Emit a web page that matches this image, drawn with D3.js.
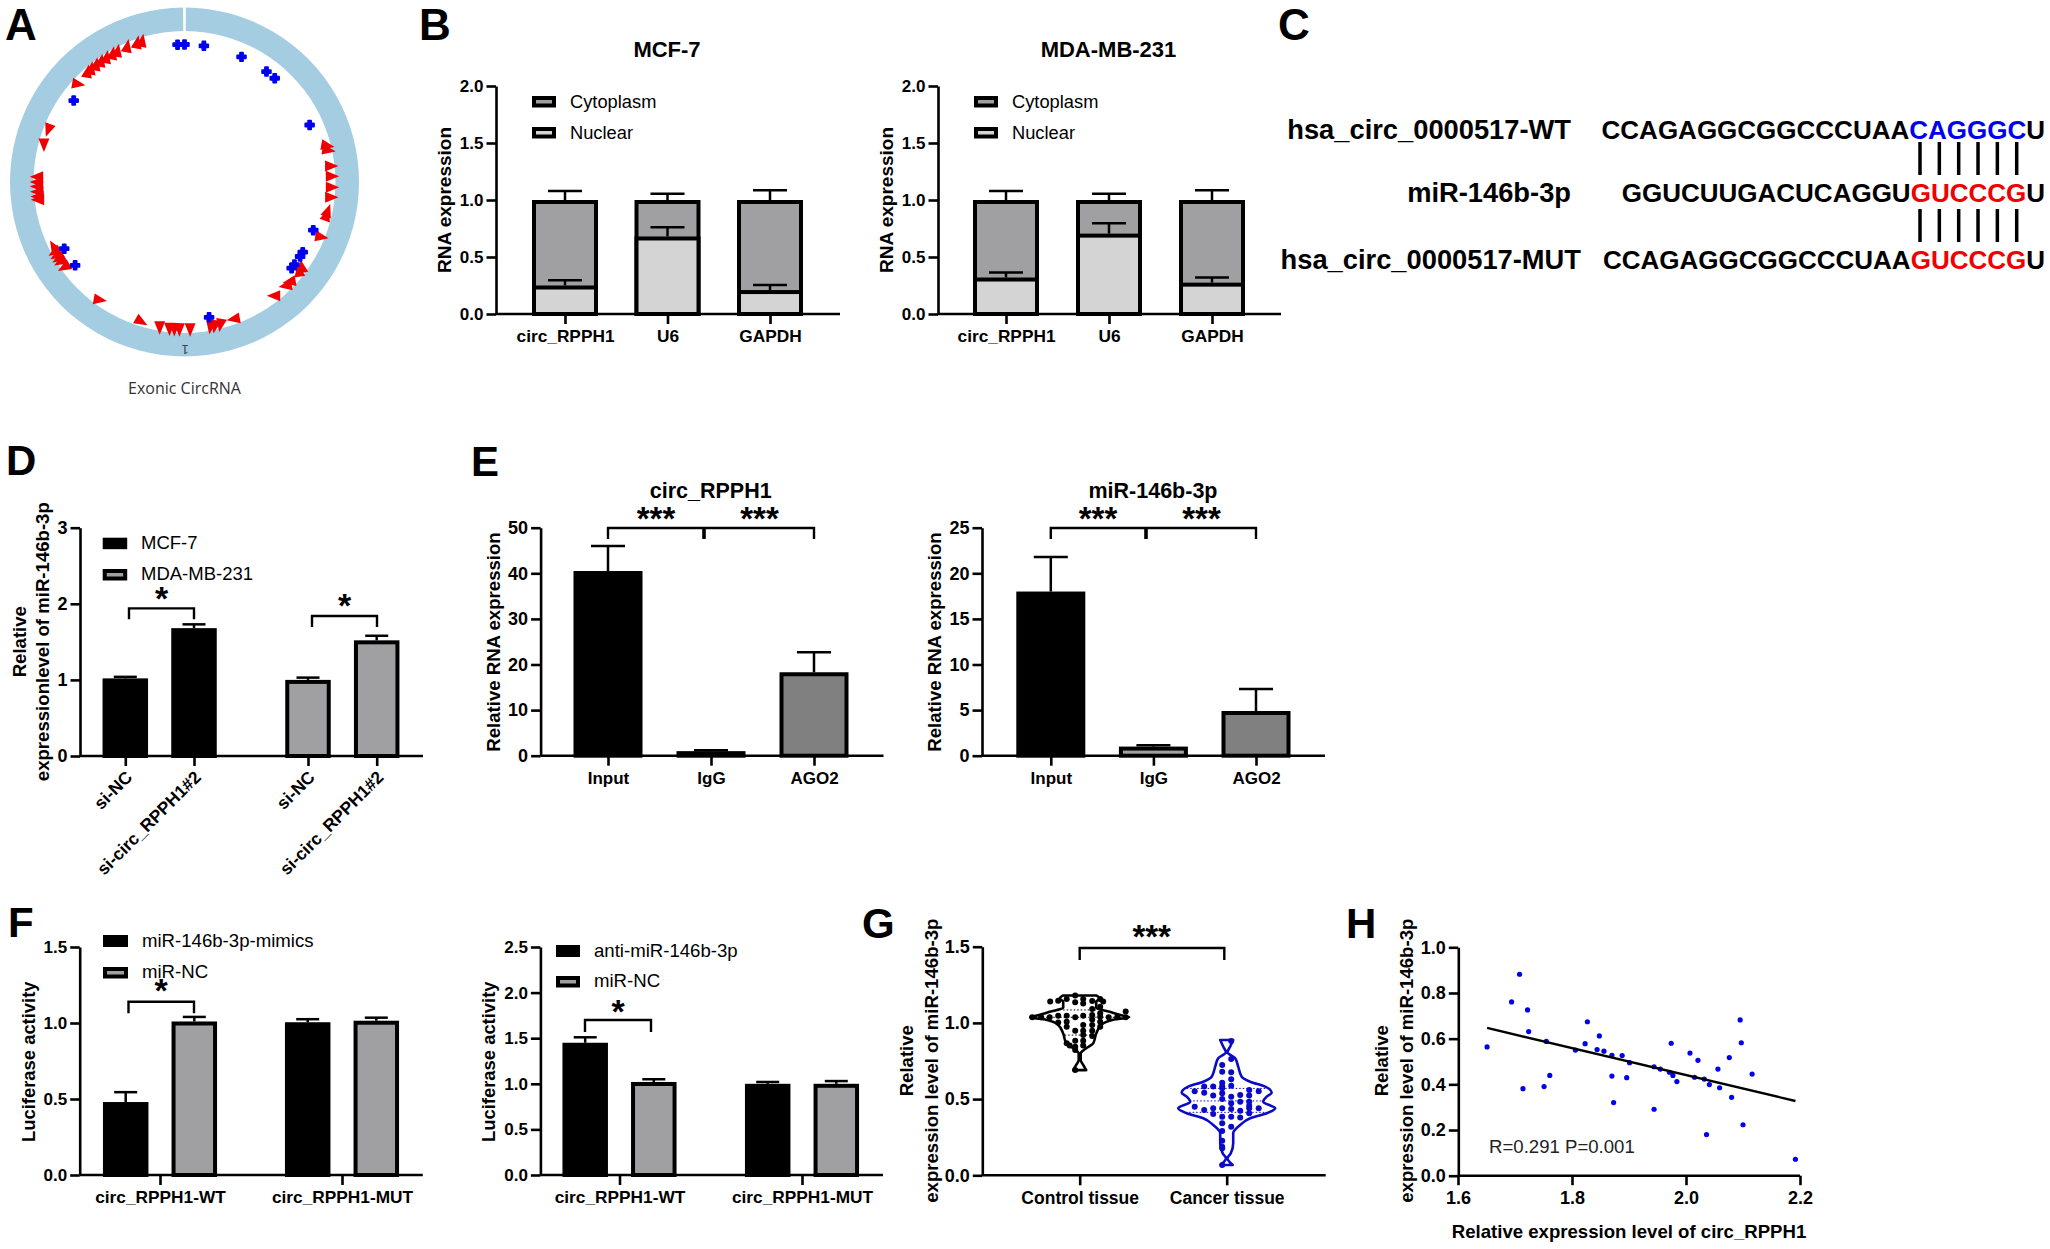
<!DOCTYPE html>
<html>
<head>
<meta charset="utf-8">
<style>
body { margin: 0; background: #fff; }
svg { display: block; }
text { font-family: "Liberation Sans", Arial, sans-serif; fill: #000; }
</style>
<script src="https://d3js.org/d3.v7.min.js"></script>
</head>
<body>
<svg width="2050" height="1249"></svg>
<script>
// panel A, sites as degrees clockwise from the top of the ring
var blueSites = [357.1, 0, 8.1, 24.5, 36.6, 41, 65.5, 110.5, 120.7, 122.8, 126.9, 128.8, 169.7, 306.3, 241, 232.7];
var redSites = [343, 341, 336.8, 332.6, 330.4, 327.6, 325, 322.6, 320.1, 318.2, 312.3, 291.6, 285.5,
    272.1, 270, 268.2, 266.2, 264.3, 263,
    243, 241.6, 240.1, 238.6, 237.2, 234.6, 216.3, 197.9, 189.8, 185.9, 184, 182, 177.8,
    169.6, 167.9, 165.6, 159.6, 141.3, 135.2, 133, 128.2, 126.3, 112, 103.7, 102, 96, 92.1, 87.7, 83.7, 77.3, 75.5];
var redHeadings = [10, 10, 10, 10, 10, 10, 10, 10, 10, 10, 100, 200, 180,
    270, 270, 270, 270, 270, 270,
    330, 240, 240, 240, 240, 240, 100, 120, 180, 180, 180, 180, 180,
    190, 190, 190, 260, 270, 260, 260, 350, 350, 100, 20, 20, 90, 90, 90, 90, 100, 100];

// panel B
var fractions = ["circ_RPPH1", "U6", "GAPDH"];
var mcfNuclear = [0.25, 0.68, 0.21];
var mcfNuclearErr = [0.295, 0.76, 0.255];
var mcfTotalErr = [1.08, 1.055, 1.085];
var mdaNuclear = [0.32, 0.705, 0.275];
var mdaNuclearErr = [0.365, 0.795, 0.32];
var mdaTotalErr = [1.08, 1.055, 1.085];

// panel C
var wtSeq = ["CCAGAGGCGGCCCUAA", "CAGGGC", "U"];
var mirSeq = ["GGUCUUGACUCAGGU", "GUCCCG", "U"];
var mutSeq = ["CCAGAGGCGGCCCUAA", "GUCCCG", "U"];
var pairs = [0, 1, 2, 3, 4, 5];

// panel D
var dGroups = ["MCF-7", "MDA-MB-231"];
var dMembers = ["si-NC", "si-circ_RPPH1#2"];
var dValues = [[1.02, 1.68], [1.0, 1.52]];
var dErr = [[1.04, 1.73], [1.03, 1.58]];

// panel E
var ripCats = ["Input", "IgG", "AGO2"];
var ripCirc = [40.5, 1, 18.3];
var ripCircErr = [46, 1.2, 22.7];
var ripMir = [18, 1, 4.9];
var ripMirErr = [21.8, 1.15, 7.3];

// panel F
var lucGroups = ["circ_RPPH1-WT", "circ_RPPH1-MUT"];
var lucMembers = ["a", "b"];
var lucMimics = [[0.48, 1.01], [1.005, 1.015]];
var lucMimicsErr = [[0.545, 1.04], [1.025, 1.035]];
var lucAnti = [[1.45, 1.02], [1.0, 1.0]];
var lucAntiErr = [[1.51, 1.05], [1.02, 1.03]];

// panel G, outlines as [level, half width], dots as [level, offset]
var tissues = ["Control tissue", "Cancer tissue"];
var controlOutline = [[1.18, 0.33], [1.16, 0.4], [1.14, 0.33], [1.10, 0.33], [1.073, 0.6], [1.05, 0.83], [1.037, 0.99],
    [1.02, 0.67], [0.986, 0.43], [0.93, 0.33], [0.866, 0.27], [0.833, 0.13], [0.80, 0.02], [0.757, 0.02], [0.724, 0.07], [0.69, 0.13]];
var cancerOutline = [[0.888, 0.13], [0.845, 0.07], [0.807, 0.015], [0.768, 0.17], [0.713, 0.23], [0.647, 0.3], [0.614, 0.47],
    [0.582, 0.77], [0.542, 0.9], [0.516, 0.8], [0.483, 0.73], [0.44, 0.97], [0.407, 0.8], [0.374, 0.47], [0.33, 0.27],
    [0.276, 0.13], [0.21, 0.13], [0.144, 0.08], [0.112, 0.015], [0.068, 0.12]];
var controlDots = [[1.141, -0.59], [1.146, -0.43], [1.157, -0.26], [1.179, -0.09], [1.157, 0.07], [1.144, 0.25], [1.157, 0.41], [1.141, 0.47],
    [1.135, -0.09], [1.128, 0.07], [1.074, 0.92], [1.106, 0.41], [1.091, 0.25], [1.063, 0.41], [1.052, 0.25], [1.041, 0.41],
    [1.037, 0.58], [1.037, 0.75], [1.037, 0.92], [1.037, -0.95], [1.037, -0.77], [1.037, -0.6], [1.047, -0.43], [1.047, -0.26],
    [1.037, -0.09], [1.047, 0.07], [1.023, 0.25], [1.008, 0.41], [1.002, -0.43], [1.008, -0.26], [0.975, -0.26], [0.986, 0.07],
    [0.986, 0.25], [0.975, 0.41], [0.949, -0.09], [0.949, 0.07], [0.949, 0.25], [0.921, 0.07], [0.914, 0.25], [0.883, -0.09],
    [0.883, 0.07], [0.866, -0.26], [0.851, 0.07], [0.844, -0.09], [0.851, -0.2], [0.822, -0.09], [0.691, -0.09]];
var cancerDots = [[0.551, -0.64], [0.582, -0.45], [0.542, -0.45], [0.582, -0.27], [0.582, -0.09], [0.588, 0.09], [0.56, 0.45], [0.551, 0.64],
    [0.527, 0.27], [0.523, 0.45], [0.724, -0.09], [0.68, -0.09], [0.676, 0.09], [0.63, 0.09], [0.608, -0.09], [0.571, -0.09],
    [0.763, 0.09], [0.881, 0.09], [0.538, -0.09], [0.523, -0.27], [0.516, 0.09], [0.501, -0.09], [0.483, 0.27], [0.483, 0.45],
    [0.457, 0.45], [0.45, -0.64], [0.429, -0.45], [0.44, -0.27], [0.402, -0.27], [0.44, -0.09], [0.472, 0.09], [0.435, 0.09],
    [0.424, 0.27], [0.44, 0.45], [0.407, 0.45], [0.44, 0.64], [0.385, -0.09], [0.385, 0.09], [0.38, 0.27], [0.341, -0.09],
    [0.319, 0.09], [0.291, -0.09], [0.227, -0.09], [0.188, -0.09], [0.177, -0.09], [0.068, -0.09]];
var controlQuartiles = [[1.085, 0.33], [1.037, 0.95], [0.92, 0.3]];
var cancerQuartiles = [[0.57, 0.8], [0.488, 0.74], [0.413, 0.82]];

// panel H
var scatterX = [1.651, 1.694, 1.708, 1.722, 1.724, 1.714, 1.751, 1.755, 1.761, 1.806, 1.823, 1.827, 1.844, 1.848, 1.856, 1.87, 1.87, 1.873,
    1.888, 1.896, 1.901, 1.944, 1.944, 1.955, 1.971, 1.974, 1.977, 1.984, 2.007, 2.015, 2.021, 2.032, 2.036, 2.041, 2.056, 2.059,
    2.076, 2.08, 2.095, 2.097, 2.1, 2.116, 2.192];
var scatterY = [0.564, 0.761, 0.882, 0.726, 0.631, 0.381, 0.39, 0.588, 0.439, 0.55, 0.578, 0.674, 0.552, 0.612, 0.545, 0.527, 0.436, 0.32,
    0.526, 0.429, 0.495, 0.477, 0.291, 0.467, 0.453, 0.58, 0.439, 0.412, 0.537, 0.431, 0.505, 0.423, 0.18, 0.399, 0.467, 0.385,
    0.517, 0.343, 0.682, 0.582, 0.223, 0.445, 0.072];
var fitX = [1.651, 2.192];
var fitY = [0.647, 0.327];

var svg = d3.select("svg");
var BLACK = "#000", LIGHT = "#d4d4d4", MID = "#a0a0a2", DARK = "#808080";

function label(x, y, str, size, weight, anchor, rot) {
    var t = svg.append("text")
        .attr("x", x).attr("y", y).attr("dy", "0.35em")
        .attr("font-size", size).attr("font-weight", weight || "normal")
        .attr("text-anchor", anchor || "middle")
        .text(str);
    if (rot) t.attr("transform", "rotate(" + rot + "," + x + "," + y + ")");
    return t;
}

function styleAxis(a, size) {
    a.attr("font-family", null).attr("font-size", size || 17).attr("font-weight", "bold");
    a.selectAll("line").attr("stroke", BLACK).attr("stroke-width", 2.6);
    a.selectAll("path").attr("stroke", BLACK).attr("stroke-width", 2.6);
    a.selectAll("text").attr("fill", BLACK);
}

// y axis plus the bare x axis line, returns the y scale
function frame(p) {
    var y = d3.scaleLinear().domain([0, p.max]).range([p.bottom, p.top]);
    svg.append("g")
        .attr("transform", "translate(" + p.left + ",0)")
        .call(d3.axisLeft(y).tickValues(p.ticks).tickFormat(p.fmt).tickSize(9.5).tickSizeOuter(0).tickPadding(3))
        .call(styleAxis, p.size);
    svg.append("line")
        .attr("x1", p.left).attr("x2", p.right).attr("y1", p.bottom).attr("y2", p.bottom)
        .attr("stroke", BLACK).attr("stroke-width", 2.6);
    return y;
}

function xTicks(scale, bottom, shift, size) {
    var a = svg.append("g")
        .attr("transform", "translate(" + (shift || 0) + "," + bottom + ")")
        .call(d3.axisBottom(scale).tickSize(10).tickPadding(6).tickSizeOuter(0));
    a.call(styleAxis, size);
    a.select(".domain").remove();
    return a;
}

function bar(cx, w, y, val, fill, sw) {
    sw = sw === undefined ? 4 : sw;
    svg.append("rect")
        .attr("x", cx - w / 2 + sw / 2).attr("width", w - sw)
        .attr("y", y(val) + sw / 2).attr("height", y(0) - y(val) - sw / 2)
        .attr("fill", fill).attr("stroke", BLACK).attr("stroke-width", sw);
}

function whisker(cx, y, from, to, cap) {
    svg.append("line").attr("x1", cx).attr("x2", cx).attr("y1", y(from)).attr("y2", y(to))
        .attr("stroke", BLACK).attr("stroke-width", 2.5);
    svg.append("line").attr("x1", cx - cap / 2).attr("x2", cx + cap / 2).attr("y1", y(to)).attr("y2", y(to))
        .attr("stroke", BLACK).attr("stroke-width", 2.5);
}

function bracket(x1, x2, top, stub) {
    svg.append("path")
        .attr("d", d3.line()([[x1, top + stub], [x1, top], [x2, top], [x2, top + stub]]))
        .attr("fill", "none").attr("stroke", BLACK).attr("stroke-width", 2.4);
}

function swatch(x, y, w, h, fill) {
    svg.append("rect").attr("x", x + 2).attr("y", y + 2).attr("width", w - 4).attr("height", h - 4)
        .attr("fill", fill).attr("stroke", BLACK).attr("stroke-width", 4);
}

// panel letters
[["A", 5, 40, 44], ["B", 419, 40, 44], ["C", 1278, 40, 44], ["D", 6, 475, 42],
 ["E", 471, 476, 42], ["F", 8, 937, 42], ["G", 862, 938, 42], ["H", 1346, 938, 42]].forEach(function(d) {
    svg.append("text").attr("x", d[1]).attr("y", d[2]).attr("font-size", d[3]).attr("font-weight", "bold").text(d[0]);
});

// ---- A
var ringCx = 184.5, ringCy = 182;
var radius = d3.scaleLinear().domain([0, 1]).range([0, 174.5]);
var ring = svg.append("g").attr("transform", "translate(" + ringCx + "," + ringCy + ")");
ring.append("path")
    .attr("d", d3.arc()({innerRadius: radius(0.865), outerRadius: radius(1), startAngle: 0.008, endAngle: 2 * Math.PI - 0.008}))
    .attr("fill", "#a5cde1");

function polar(d, r) {
    var a = d * Math.PI / 180;
    return "translate(" + (radius(r) * Math.sin(a)) + "," + (-radius(r) * Math.cos(a)) + ")";
}
ring.selectAll(".red").data(redSites).enter().append("path").attr("class", "red")
    .attr("d", d3.symbol(d3.symbolTriangle).size(72)).attr("fill", "#f00000")
    .attr("transform", function(d, i) { return polar(d, 0.836) + " rotate(" + redHeadings[i] + ") scale(0.85,1.2)"; });
ring.selectAll(".blue").data(blueSites).enter().append("path").attr("class", "blue")
    .attr("d", d3.symbol(d3.symbolCross).size(40)).attr("fill", "#0000f0")
    .attr("stroke", "#0000f0").attr("stroke-width", 2).attr("stroke-linejoin", "round")
    .attr("transform", function(d) { return polar(d, 0.788); });
label(185, 350, "1", 13, "normal", "middle", 180).style("fill", "#444");
label(184.5, 388, "Exonic CircRNA", 16, "normal").style("font-family", "'Open Sans'").style("fill", "#333");

// ---- B
function stacked(left, right, tickL, tickR, nuclear, nucErr, totErr, title, tx) {
    var y = frame({left: left, right: right, top: 86, bottom: 314, max: 2, ticks: [0, 0.5, 1, 1.5, 2], fmt: d3.format(".1f"), size: 17});
    var x = d3.scalePoint().domain(fractions).range([tickL, tickR]);
    xTicks(x, 314, 0, 17.3);
    fractions.forEach(function(f, i) {
        bar(x(f), 66, y, 1, MID);
        whisker(x(f), y, 1, totErr[i], 34);
        bar(x(f), 66, y, nuclear[i], LIGHT);
        whisker(x(f), y, nuclear[i], nucErr[i], 34);
    });
    label(tx, 49, title, 22, "bold");
    label(left - 52, 200, "RNA expression", 19, "bold", "middle", -90);
    swatch(left + 36, 96, 24, 11.5, MID);
    swatch(left + 36, 127, 24, 11.5, LIGHT);
    label(left + 74, 102, "Cytoplasm", 18.3, "normal", "start");
    label(left + 74, 133, "Nuclear", 18.3, "normal", "start");
}
stacked(496, 840, 565, 770, mcfNuclear, mcfNuclearErr, mcfTotalErr, "MCF-7", 667);
stacked(938, 1281, 1006, 1212, mdaNuclear, mdaNuclearErr, mdaTotalErr, "MDA-MB-231", 1108.5);

// ---- C
function sequence(y, name, nameEnd, seq, color) {
    label(nameEnd, y, name, 27.3, "bold", "end");
    var t = label(2045, y, "", 26, "bold", "end");
    t.append("tspan").text(seq[0]);
    t.append("tspan").style("fill", color).text(seq[1]);
    t.append("tspan").text(seq[2]);
}
sequence(129.5, "hsa_circ_0000517-WT", 1571, wtSeq, "#0000f0");
sequence(192.5, "miR-146b-3p", 1571, mirSeq, "#f00000");
sequence(259.5, "hsa_circ_0000517-MUT", 1581, mutSeq, "#f00000");
var pairX = d3.scalePoint().domain(pairs).range([1920, 2016.7]);
[[142, 175], [209, 242]].forEach(function(r) {
    svg.selectAll(null).data(pairs).enter().append("line")
        .attr("x1", pairX).attr("x2", pairX).attr("y1", r[0]).attr("y2", r[1])
        .attr("stroke", BLACK).attr("stroke-width", 3.5);
});

// ---- D
var dY = frame({left: 80, right: 423, top: 527.7, bottom: 756, max: 3, ticks: [0, 1, 2, 3], fmt: d3.format("d"), size: 18});
var dX0 = d3.scalePoint().domain(dGroups).range([159.65, 342.35]);
var dX1 = d3.scalePoint().domain(dMembers).range([-34.35, 34.35]);
dGroups.forEach(function(g, i) {
    var a = xTicks(dX1, 756, dX0(g), 17.4);
    a.selectAll("text")
        .attr("text-anchor", "end").attr("transform", "rotate(-45)")
        .attr("x", -10.5).attr("y", 15).attr("dy", "0.35em");
    dMembers.forEach(function(m, j) {
        var cx = dX0(g) + dX1(m);
        whisker(cx, dY, dValues[i][j], dErr[i][j], 23);
        bar(cx, 45.5, dY, dValues[i][j], i ? MID : BLACK);
    });
});
bracket(129, 194, dY(1.94), 11);
bracket(312, 377, dY(1.84), 11);
label(161.7, 598, "*", 34, "bold");
label(344.7, 605, "*", 34, "bold");
swatch(102.7, 537.7, 24.5, 11.5, BLACK);
swatch(102.7, 569, 24.5, 11.5, MID);
label(141, 543, dGroups[0], 18.5, "normal", "start");
label(141, 574, dGroups[1], 18.5, "normal", "start");
label(19, 641.7, "Relative", 18.6, "bold", "middle", -90);
label(42.7, 641.7, "expressionlevel of miR-146b-3p", 18.6, "bold", "middle", -90);

// ---- E
function rip(left, right, tickL, tickR, max, ticks, vals, errs, title, tx, midX) {
    var y = frame({left: left, right: right, top: 527.7, bottom: 755.7, max: max, ticks: ticks, fmt: d3.format("d"), size: 18});
    var x = d3.scalePoint().domain(ripCats).range([tickL, tickR]);
    xTicks(x, 755.7, 0, 17);
    var fills = [BLACK, MID, DARK];
    ripCats.forEach(function(c, i) {
        whisker(x(c), y, vals[i], errs[i], 34);
        bar(x(c), 69, y, vals[i], fills[i]);
    });
    bracket(tickL, tickR, 528, 11);
    svg.append("line").attr("x1", midX).attr("x2", midX).attr("y1", 528).attr("y2", 539)
        .attr("stroke", BLACK).attr("stroke-width", 3.6);
    label(midX - 48, 518, "***", 33, "bold");
    label(midX + 55.5, 518, "***", 33, "bold");
    label(tx, 490.7, title, 21.5, "bold");
    label(left - 47.5, 642, "Relative RNA expression", 18.6, "bold", "middle", -90);
}
rip(540.6, 883.5, 608, 814, 50, [0, 10, 20, 30, 40, 50], ripCirc, ripCircErr, "circ_RPPH1", 710.7, 704);
rip(982, 1325, 1050.8, 1256, 25, [0, 5, 10, 15, 20, 25], ripMir, ripMirErr, "miR-146b-3p", 1153, 1146);

// ---- F
function luciferase(left, right, tickL, tickR, max, ticks, vals, errs) {
    var y = frame({left: left, right: right, top: 947, bottom: 1175, max: max, ticks: ticks, fmt: d3.format(".1f"), size: 17});
    var x0 = d3.scalePoint().domain(lucGroups).range([tickL, tickR]);
    var x1 = d3.scalePoint().domain(lucMembers).range([-34.3, 34.3]);
    xTicks(x0, 1175, 0, 17.3);
    lucGroups.forEach(function(g, i) {
        lucMembers.forEach(function(m, j) {
            var cx = x0(g) + x1(m);
            whisker(cx, y, vals[i][j], errs[i][j], 23);
            bar(cx, 45.5, y, vals[i][j], j ? MID : BLACK);
        });
    });
    label(left - 51.5, 1061.7, "Luciferase activity", 18.4, "bold", "middle", -90);
}
luciferase(79.7, 422.8, 160, 342, 1.5, [0, 0.5, 1, 1.5], lucMimics, lucMimicsErr);
luciferase(540.4, 883, 619.5, 802, 2.5, [0, 0.5, 1, 1.5, 2, 2.5], lucAnti, lucAntiErr);
swatch(103, 935, 25, 12, BLACK);
swatch(103, 967, 25, 11.5, MID);
label(142, 940.5, "miR-146b-3p-mimics", 18.6, "normal", "start");
label(142, 971.5, "miR-NC", 18.6, "normal", "start");
bracket(128.5, 194, 1001.7, 11.5);
label(161, 990, "*", 34, "bold");
swatch(556, 945, 24, 12, BLACK);
swatch(556, 976, 24, 11.5, MID);
label(594, 950.5, "anti-miR-146b-3p", 18.6, "normal", "start");
label(594, 980.5, "miR-NC", 18.6, "normal", "start");
bracket(585, 651, 1020, 12);
label(618, 1011, "*", 34, "bold");

// ---- G
var gY = frame({left: 982.3, right: 1325.7, top: 946.7, bottom: 1175.3, max: 1.5, ticks: [0, 0.5, 1, 1.5], fmt: d3.format(".1f"), size: 18});
var gX = d3.scalePoint().domain(tissues).range([1079.7, 1226.7]);
xTicks(gX, 1175.3, 0, 17.5);
var gW = d3.scaleLinear().domain([0, 1]).range([0, 50]);
function violin(cat, outline, dots, quartiles, color) {
    var c = gX(cat);
    var area = d3.area()
        .y(function(d) { return gY(d[0]); })
        .x0(function(d) { return c - gW(d[1]); })
        .x1(function(d) { return c + gW(d[1]); })
        .curve(d3.curveMonotoneY);
    svg.append("path").attr("d", area(outline)).attr("fill", "#fff").attr("stroke", color)
        .attr("stroke-width", 2.6).attr("stroke-linejoin", "round");
    svg.selectAll(null).data(quartiles).enter().append("line")
        .attr("x1", function(d) { return c - gW(d[1]); })
        .attr("x2", function(d) { return c + gW(d[1]); })
        .attr("y1", function(d) { return gY(d[0]); })
        .attr("y2", function(d) { return gY(d[0]); })
        .attr("stroke", color).attr("stroke-width", 1).attr("stroke-dasharray", "1.5 2");
    svg.selectAll(null).data(dots).enter().append("circle")
        .attr("cx", function(d) { return c + gW(d[1]); })
        .attr("cy", function(d) { return gY(d[0]); })
        .attr("r", 3).attr("fill", color);
}
violin(tissues[0], controlOutline, controlDots, controlQuartiles, BLACK);
violin(tissues[1], cancerOutline, cancerDots, cancerQuartiles, "#0a0ac8");
bracket(1079.7, 1224.3, 948, 12);
label(1151.7, 936.5, "***", 33, "bold");
label(906.7, 1060.7, "Relative", 18.6, "bold", "middle", -90);
label(931, 1060.7, "expression level of miR-146b-3p", 18.6, "bold", "middle", -90);

// ---- H
var hX = d3.scaleLinear().domain([1.6, 2.2]).range([1458, 1800]);
var hY = frame({left: 1458.3, right: 1800, top: 947.3, bottom: 1175.7, max: 1, ticks: [0, 0.2, 0.4, 0.6, 0.8, 1], fmt: d3.format(".1f"), size: 18});
var hAxis = svg.append("g").attr("transform", "translate(0,1175.7)")
    .call(d3.axisBottom(hX).tickValues([1.6, 1.8, 2.0, 2.2]).tickFormat(d3.format(".1f")).tickSize(9.5).tickSizeOuter(0).tickPadding(6));
hAxis.call(styleAxis, 18);
hAxis.select(".domain").remove();
svg.selectAll(null).data(scatterX).enter().append("circle")
    .attr("cx", function(d) { return hX(d); })
    .attr("cy", function(d, i) { return hY(scatterY[i]); })
    .attr("r", 2.6).attr("fill", "#0000f0");
svg.append("path")
    .attr("d", d3.line().x(function(d) { return hX(d); }).y(function(d, i) { return hY(fitY[i]); })(fitX))
    .attr("fill", "none").attr("stroke", BLACK).attr("stroke-width", 2.4);
label(1489, 1146.7, "R=0.291 P=0.001", 18.6, "normal", "start").style("fill", "#222");
label(1381.7, 1060.7, "Relative", 18.6, "bold", "middle", -90);
label(1406.7, 1060.7, "expression level of miR-146b-3p", 18.6, "bold", "middle", -90);
label(1629, 1231, "Relative expression level of circ_RPPH1", 18.6, "bold");
</script>
</body>
</html>
